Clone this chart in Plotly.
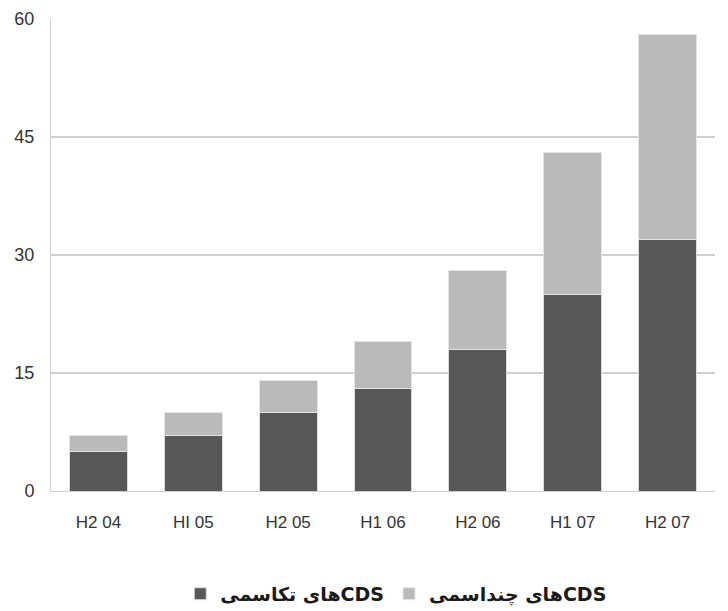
import plotly.graph_objects as go

# Half-year periods on the x axis
period_labels = ["H2 04", "HI 05", "H2 05", "H1 06", "H2 06", "H1 07", "H2 07"]

# Stacked values per period
single_name = [5, 7, 10, 13, 18, 25, 32]      # CDSهای تک‌اسمی
multi_name = [2, 3, 4, 6, 10, 18, 26]         # CDSهای چنداسمی

y_ticks = [0, 15, 30, 45, 60]

# right-to-left embedding so the Persian labels read naturally
RLE, PDF = "\u202b", "\u202c"

fig = go.Figure()
fig.add_trace(go.Bar(
    x=period_labels, y=single_name,
    name=RLE + "CDSهای تکاسمی" + PDF,
    marker=dict(color="#575757", line=dict(color="#dcdcdc", width=1)),
))
fig.add_trace(go.Bar(
    x=period_labels, y=multi_name,
    name=RLE + "CDSهای چنداسمی" + PDF,
    marker=dict(color="#bababa", line=dict(color="#e4e4e4", width=1)),
))

fig.update_layout(
    barmode="stack",
    bargap=0.39,
    width=728, height=611,
    margin=dict(l=51, r=13, t=19, b=120, autoexpand=False),
    paper_bgcolor="white",
    plot_bgcolor="white",
    font=dict(family="Liberation Sans, Arial, sans-serif", size=17, color="#333333"),
    showlegend=True,
    legend=dict(
        orientation="h",
        x=0.52, xanchor="center",
        y=-0.218, yanchor="middle",
        font=dict(family="DejaVu Sans", size=19, color="#1a1a1a", weight="bold"),
        itemwidth=30,
        traceorder="normal",
    ),
    xaxis=dict(
        showline=True, linecolor="#cfcfcf", linewidth=1,
        ticks="", showgrid=False,
        tickfont=dict(size=17, color="#333333"),
        ticklabelstandoff=16,
    ),
    yaxis=dict(
        range=[0, 60],
        tickvals=y_ticks,
        showgrid=True, gridcolor="#d0d0d0", gridwidth=1.5,
        showline=True, linecolor="#cfcfcf", linewidth=1,
        zeroline=False,
        ticks="",
        tickfont=dict(size=18, color="#333333"),
        ticklabelstandoff=12,
    ),
)

fig.write_html("out.html")
